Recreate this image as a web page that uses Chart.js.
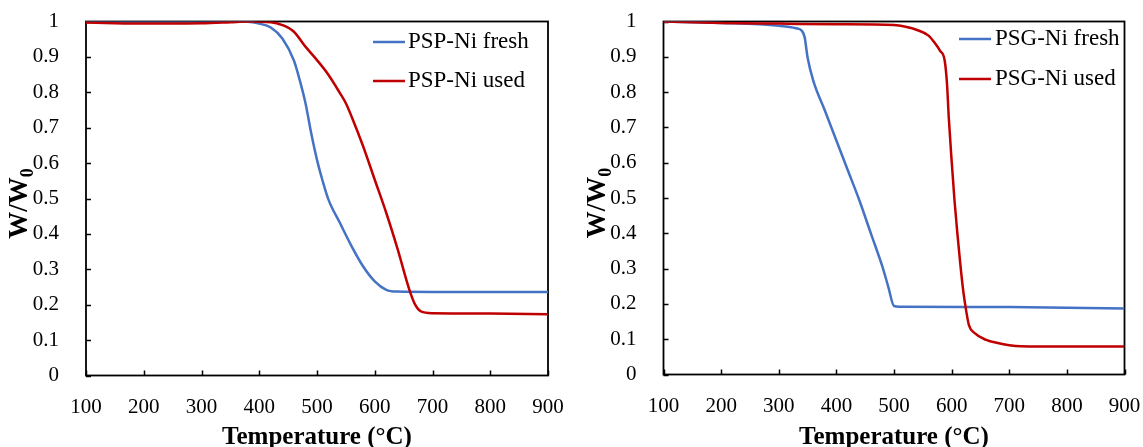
<!DOCTYPE html>
<html>
<head>
<meta charset="utf-8">
<script src="https://cdn.jsdelivr.net/npm/chart.js@4/dist/chart.umd.min.js"></script>
<style>
  html, body { margin: 0; padding: 0; background: #fff; width: 1143px; height: 447px; overflow: hidden; }
  canvas { position: absolute; top: 0; }
  #tgaPSP { left: 0; }
  #tgaPSG { left: 575px; }
</style>
</head>
<body>
<canvas id="tgaPSP" width="575" height="447"></canvas>
<canvas id="tgaPSG" width="568" height="447"></canvas>
<script>
// Thermogravimetric curves: residual mass fraction W/W0 against temperature (°C)

const xTickValues = [100, 200, 300, 400, 500, 600, 700, 800, 900];
const yTickValues = [0, 0.1, 0.2, 0.3, 0.4, 0.5, 0.6, 0.7, 0.8, 0.9, 1];

// PSP-Ni catalyst
const pspFreshT = [100, 150, 200, 300, 380, 400, 420, 440, 460, 470, 480, 490, 500, 510, 520, 540, 560, 580, 600, 620, 640, 700, 800, 900];
const pspFreshW = [1.0, 1.0, 1.0, 1.0, 0.999, 0.994, 0.983, 0.952, 0.89, 0.835, 0.77, 0.684, 0.609, 0.548, 0.496, 0.43, 0.365, 0.308, 0.266, 0.242, 0.237, 0.236, 0.236, 0.236];
const pspUsedT = [100, 150, 200, 250, 300, 350, 380, 420, 440, 460, 480, 500, 520, 540, 550, 560, 580, 600, 620, 640, 660, 670, 680, 700, 800, 900];
const pspUsedW = [0.997, 0.995, 0.994, 0.994, 0.995, 0.998, 1.0, 0.998, 0.99, 0.971, 0.929, 0.891, 0.849, 0.797, 0.769, 0.731, 0.647, 0.553, 0.459, 0.355, 0.242, 0.2, 0.181, 0.176, 0.175, 0.173];

// PSG-Ni catalyst
const psgFreshT = [100, 200, 300, 330, 340, 345, 350, 360, 380, 400, 420, 440, 460, 480, 490, 500, 510, 700, 900];
const psgFreshW = [1.0, 0.996, 0.988, 0.981, 0.974, 0.955, 0.898, 0.832, 0.748, 0.663, 0.578, 0.493, 0.399, 0.305, 0.249, 0.194, 0.192, 0.191, 0.187];
const psgUsedT = [100, 200, 300, 400, 500, 520, 540, 560, 570, 580, 588, 592, 595, 600, 605, 610, 615, 620, 625, 630, 640, 660, 680, 700, 720, 800, 900];
const psgUsedW = [1.0, 0.996, 0.994, 0.992, 0.99, 0.985, 0.976, 0.96, 0.941, 0.917, 0.889, 0.823, 0.729, 0.606, 0.493, 0.399, 0.314, 0.239, 0.183, 0.14, 0.117, 0.098, 0.089, 0.083, 0.08, 0.079, 0.079];

const BLUE = '#4472C4';
const RED = '#C00000';
const SERIF = '"Liberation Serif", "Times New Roman", serif';

function pairs(xs, ys) {
  return xs.map((x, i) => ({ x: x, y: ys[i] }));
}

// Closed frame, inward tick marks, axis titles and an in-plot legend
const decorPlugin = {
  id: 'decor',
  beforeDatasetsDraw(chart) {
    const { ctx, chartArea: a, scales: { x, y } } = chart;
    ctx.save();
    ctx.strokeStyle = '#000';
    ctx.lineWidth = 1.5;
    ctx.beginPath();
    xTickValues.forEach(v => {
      const px = Math.round(x.getPixelForValue(v)) + 0.5;
      ctx.moveTo(px, a.bottom);
      ctx.lineTo(px, a.bottom - 5);
    });
    yTickValues.forEach(v => {
      const py = Math.round(y.getPixelForValue(v)) + 0.5;
      ctx.moveTo(a.left, py);
      ctx.lineTo(a.left + 5, py);
    });
    ctx.stroke();
    ctx.lineWidth = 1.8;
    ctx.strokeRect(a.left, a.top, a.right - a.left, a.bottom - a.top);
    ctx.restore();
  },
  afterDraw(chart, args, opts) {
    const { ctx, chartArea: a } = chart;
    ctx.save();
    ctx.fillStyle = '#000';

    // x-axis title
    ctx.font = 'bold 25px ' + SERIF;
    ctx.textAlign = 'center';
    ctx.textBaseline = 'alphabetic';
    ctx.fillText('Temperature (°C)', (a.left + a.right) / 2, 444);

    // y-axis title with subscript, rotated
    const main = 'W/W', sub = '0';
    ctx.font = 'bold 27px ' + SERIF;
    const wMain = ctx.measureText(main).width;
    ctx.font = 'bold 18px ' + SERIF;
    const wSub = ctx.measureText(sub).width;
    const cy = (a.top + a.bottom) / 2 + 5;
    ctx.translate(a.left - 59, cy + (wMain + wSub) / 2);
    ctx.rotate(-Math.PI / 2);
    ctx.textAlign = 'left';
    ctx.font = 'bold 27px ' + SERIF;
    ctx.fillText(main, 0, 0);
    ctx.font = 'bold 18px ' + SERIF;
    ctx.fillText(sub, wMain, 6);
    ctx.setTransform(1, 0, 0, 1, 0, 0);

    // legend
    ctx.font = '23px ' + SERIF;
    ctx.textAlign = 'left';
    ctx.textBaseline = 'middle';
    chart.data.datasets.forEach((ds, i) => {
      const ly = opts.rows[i];
      ctx.strokeStyle = ds.borderColor;
      ctx.lineWidth = 2.5;
      ctx.beginPath();
      ctx.moveTo(opts.lineX, ly);
      ctx.lineTo(opts.lineX + opts.lineLen, ly);
      ctx.stroke();
      ctx.fillText(ds.label, opts.lineX + opts.lineLen + opts.gap, ly);
    });
    ctx.restore();
  }
};

function makeChart(id, fresh, used, names, legendOpts, pad) {
  return new Chart(document.getElementById(id), {
    type: 'line',
    data: {
      datasets: [
        { label: names[0], data: fresh, borderColor: BLUE, borderWidth: 2.5, pointRadius: 0, cubicInterpolationMode: 'monotone', order: 1 },
        { label: names[1], data: used, borderColor: RED, borderWidth: 2.5, pointRadius: 0, cubicInterpolationMode: 'monotone', order: 0 }
      ]
    },
    options: {
      responsive: false,
      devicePixelRatio: 1,
      animation: false,
      layout: { padding: { left: 0, top: pad.top, right: pad.right, bottom: 0 } },
      plugins: {
        legend: { display: false },
        tooltip: { enabled: false },
        decor: legendOpts
      },
      scales: {
        x: {
          type: 'linear',
          min: 100, max: 900,
          afterBuildTicks: s => { s.ticks = xTickValues.map(v => ({ value: v })); },
          ticks: { font: { family: SERIF, size: 21 }, color: '#000', padding: 11, maxRotation: 0 },
          grid: { display: false },
          border: { display: false },
          afterFit: s => { s.height = pad.xAxisH; s.paddingLeft = 0; s.paddingRight = 0; }
        },
        y: {
          type: 'linear',
          min: 0, max: 1,
          afterBuildTicks: s => { s.ticks = yTickValues.map(v => ({ value: v })); },
          ticks: { font: { family: SERIF, size: 21 }, color: '#000', padding: 19, callback: v => String(parseFloat(v.toFixed(1))) },
          grid: { display: false },
          border: { display: false },
          afterFit: s => { s.width = pad.yAxisW; s.paddingTop = 0; s.paddingBottom = 0; }
        }
      }
    },
    plugins: [decorPlugin]
  });
}

makeChart('tgaPSP', pairs(pspFreshT, pspFreshW), pairs(pspUsedT, pspUsedW),
  ['PSP-Ni fresh', 'PSP-Ni used'],
  { lineX: 373, lineLen: 32, gap: 3, rows: [42, 81] },
  { top: 21.5, right: 27, xAxisH: 71.5, yAxisW: 86 });

makeChart('tgaPSG', pairs(psgFreshT, psgFreshW), pairs(psgUsedT, psgUsedW),
  ['PSG-Ni fresh', 'PSG-Ni used'],
  { lineX: 384, lineLen: 32, gap: 4, rows: [39, 79] },
  { top: 21.5, right: 18.5, xAxisH: 72.5, yAxisW: 88.5 });
</script>
</body>
</html>
